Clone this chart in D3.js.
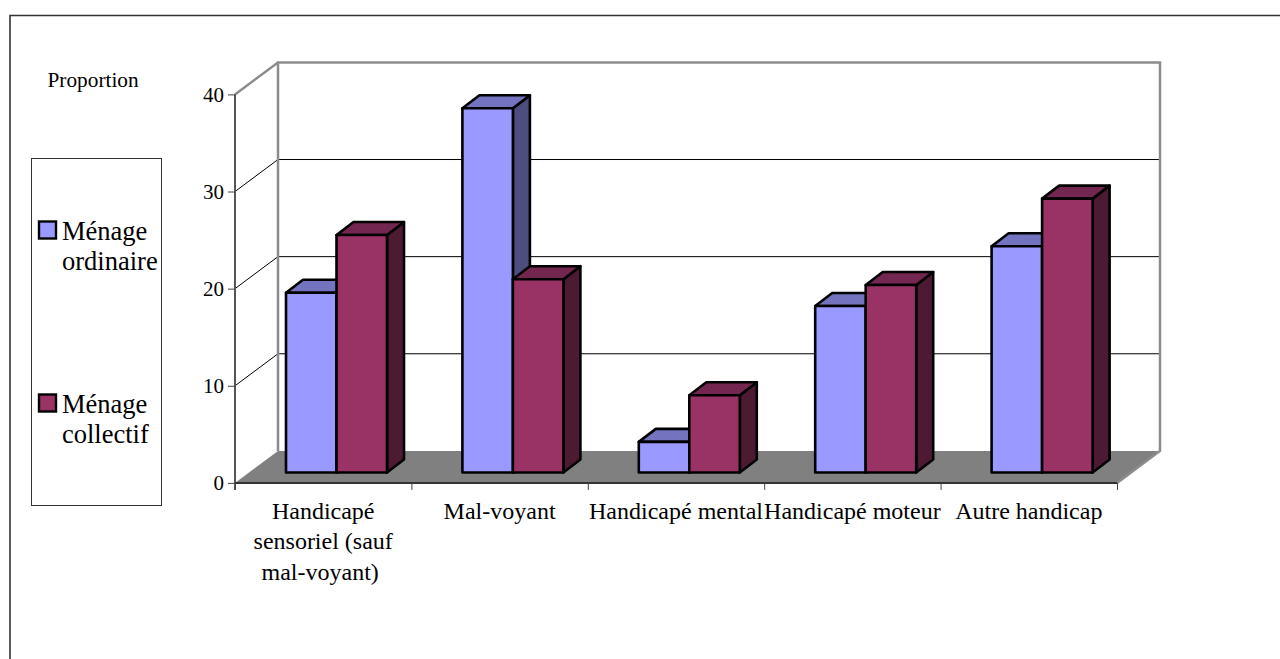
<!DOCTYPE html>
<html><head><meta charset="utf-8">
<script src="https://cdnjs.cloudflare.com/ajax/libs/d3/7.8.5/d3.min.js"></script>
<style>html,body{margin:0;padding:0;background:#fff;overflow:hidden}svg{display:block}text{font-family:"Liberation Serif",serif;fill:#000}</style>
</head><body><svg id="c" width="1280" height="659"></svg>
<script>
const categories=[["Handicapé","sensoriel (sauf","mal-voyant)\u00a0"],["Mal-voyant"],["Handicapé mental"],["Handicapé moteur"],["Autre handicap"]];
const ordinaire=[18.5,37.5,3.15,17.15,23.3];
const collectif=[24.45,19.9,7.95,19.3,28.2];
const seriesNames=[["Ménage","ordinaire"],["Ménage","collectif"]];
const yTicks=[0,10,20,30,40];
const colors=[{front:"#9999ff",top:"#7373bf",side:"#4d4d80"},{front:"#993366",top:"#732650",side:"#4d1a33"}];

const svg=d3.select("#c");
const y=d3.scaleLinear().domain([0,40]).range([482.9,94.4]);
const x=d3.scaleLinear().domain([0,5]).range([235,1117]);
const wall={dx:43,dy:-32}, plane={dx:51,dy:-10.4}, barW=50.5, bar={dx:17,dy:-13};
const grey="#8c8c8c";
const pts=a=>a.map(p=>p.join(",")).join(" ");

// outer frame
svg.append("path").attr("d","M10,659V15.5H1280").attr("fill","none").attr("stroke","#333").attr("stroke-width",1.6);
// floor
svg.append("polygon").attr("points",pts([[x(0),y(0)],[x(0)+wall.dx,y(0)+wall.dy],[x(5)+wall.dx,y(0)+wall.dy],[x(5),y(0)]])).attr("fill","#808080");
// gridlines
svg.selectAll(".g").data(yTicks.filter(t=>t>0&&t<40)).join("path").attr("class","g")
  .attr("d",t=>`M${x(0)},${y(t)}L${x(0)+wall.dx},${y(t)+wall.dy}H${x(5)+wall.dx}`)
  .attr("fill","none").attr("stroke","#000").attr("stroke-width",1);
// walls
svg.append("path").attr("d",`M${x(0)+wall.dx},${y(0)+wall.dy}V${y(40)+wall.dy}H${x(5)+wall.dx}V${y(0)+wall.dy}L${x(5)},${y(0)}`).attr("fill","none").attr("stroke",grey).attr("stroke-width",2.5);
svg.append("line").attr("x1",x(0)).attr("y1",y(40)).attr("x2",x(0)+wall.dx).attr("y2",y(40)+wall.dy).attr("stroke",grey).attr("stroke-width",2.5);
// bars
categories.forEach((c,i)=>{
  [ordinaire,collectif].forEach((vals,s)=>{
    const x0=x(i)+plane.dx+s*barW, x1=x0+barW, yt=y(vals[i])+plane.dy, yb=y(0)+plane.dy, col=colors[s];
    const g=svg.append("g").attr("stroke","#000").attr("stroke-width",2.6).attr("stroke-linejoin","round");
    g.append("polygon").attr("points",pts([[x1,yt],[x1+bar.dx,yt+bar.dy],[x1+bar.dx,yb+bar.dy],[x1,yb]])).attr("fill",col.side);
    g.append("polygon").attr("points",pts([[x0,yt],[x0+bar.dx,yt+bar.dy],[x1+bar.dx,yt+bar.dy],[x1,yt]])).attr("fill",col.top);
    g.append("rect").attr("x",x0).attr("y",yt).attr("width",barW).attr("height",yb-yt).attr("fill",col.front);
  });
});
// y axis
const ya=svg.append("g").attr("transform",`translate(${x(0)},0)`).call(d3.axisLeft(y).tickValues(yTicks).tickSize(7).tickPadding(4));
ya.selectAll("path").attr("stroke","#555").attr("stroke-width",2).attr("d",`M0,${y(40)}V${y(0)+7}`);
ya.selectAll("line").attr("stroke","#444");
ya.selectAll("text").attr("font-family","Liberation Serif").attr("font-size",21).attr("fill","#000");
// x axis
const xa=svg.append("g").attr("transform",`translate(0,${y(0)})`).call(d3.axisBottom(x).tickValues(d3.range(6)).tickSize(7).tickFormat(""));
xa.selectAll("path").attr("stroke","#333").attr("stroke-width",2).attr("d",`M${x(0)},0H${x(5)}`);
xa.selectAll("line").attr("stroke","#444");
// category labels
svg.selectAll(".cat").data(categories).join("text").attr("class","cat")
  .attr("text-anchor","middle").attr("font-size",24)
  .each(function(lines,i){
    d3.select(this).selectAll("tspan").data(lines).join("tspan")
      .attr("x",x(i+0.5)).attr("y",(d,k)=>518.5+k*30.5).text(d=>d);
  });
// title
svg.append("text").attr("x",47.5).attr("y",87).attr("font-size",21.3).text("Proportion");
// legend
svg.append("rect").attr("x",31.5).attr("y",158.5).attr("width",130).attr("height",347).attr("fill","none").attr("stroke","#333").attr("stroke-width",1);
const legendY=[239.5,412.5];
seriesNames.forEach((lines,s)=>{
  svg.append("rect").attr("x",39).attr("y",legendY[s]-18).attr("width",17).attr("height",17).attr("fill",colors[s].front).attr("stroke","#000").attr("stroke-width",2.4);
  lines.forEach((t,k)=>svg.append("text").attr("x",62).attr("y",legendY[s]+k*30.5).attr("font-size",26.5).text(t));
});
</script></body></html>
